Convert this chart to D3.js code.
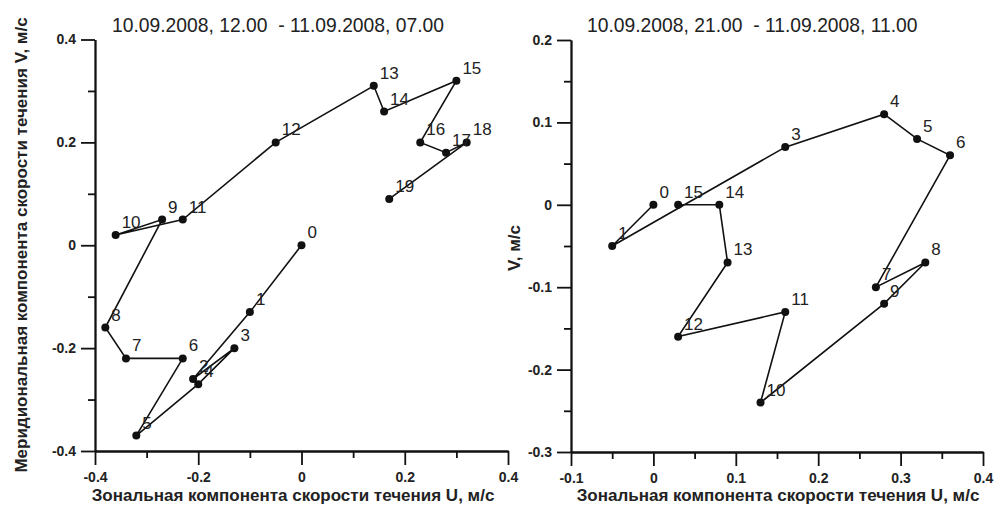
<!DOCTYPE html>
<html>
<head>
<meta charset="utf-8">
<script src="https://cdn.jsdelivr.net/npm/d3@7"></script>
<style>
  body { margin: 0; background: #fff; }
  svg { display: block; font-family: "Liberation Sans", Arial, sans-serif; }
  .axis path, .axis line { stroke: #111; stroke-width: 1.8; }
  .axis text { font-size: 14px; font-weight: bold; fill: #222; }
</style>
</head>
<body>
<svg id="chart" width="995" height="506"></svg>
<script>
// left hodograph: 10.09.2008 12.00 - 11.09.2008 07.00
var leftIds = [0, 1, 2, 3, 4, 5, 6, 7, 8, 9, 10, 11, 12, 13, 14, 15, 16, 17, 18, 19];
var leftU = [0, -0.10, -0.21, -0.13, -0.20, -0.32, -0.23, -0.34, -0.38, -0.27, -0.36, -0.23, -0.05, 0.14, 0.16, 0.30, 0.23, 0.28, 0.32, 0.17];
var leftV = [0, -0.13, -0.26, -0.20, -0.27, -0.37, -0.22, -0.22, -0.16, 0.05, 0.02, 0.05, 0.20, 0.31, 0.26, 0.32, 0.20, 0.18, 0.20, 0.09];

// right hodograph: 10.09.2008 21.00 - 11.09.2008 11.00
var rightIds = [0, 1, 3, 4, 5, 6, 7, 8, 9, 10, 11, 12, 13, 14, 15];
var rightU = [0, -0.05, 0.16, 0.28, 0.32, 0.36, 0.27, 0.33, 0.28, 0.13, 0.16, 0.03, 0.09, 0.08, 0.03];
var rightV = [0, -0.05, 0.07, 0.11, 0.08, 0.06, -0.10, -0.07, -0.12, -0.24, -0.13, -0.16, -0.07, 0, 0];

var leftXTicks = [-0.4, -0.2, 0, 0.2, 0.4];
var leftXMinor = [-0.3, -0.1, 0.1, 0.3];
var leftYTicks = [-0.4, -0.2, 0, 0.2, 0.4];
var leftYMinor = [-0.3, -0.1, 0.1, 0.3];
var rightXTicks = [-0.1, 0, 0.1, 0.2, 0.3, 0.4];
var rightXMinor = [-0.05, 0.05, 0.15, 0.25, 0.35];
var rightYTicks = [-0.3, -0.2, -0.1, 0, 0.1, 0.2];
var rightYMinor = [-0.25, -0.15, -0.05, 0.05, 0.15];

var svg = d3.select("#chart");

// plain labels, hyphen instead of unicode minus
function fmt(d) {
    if (Math.abs(d) < 1e-9) return "0";
    return (d < 0 ? "-" : "") + Math.abs(d).toFixed(1);
}

function drawPanel(opt) {
    var x = d3.scaleLinear().domain(opt.xDomain).range(opt.xRange);
    var y = d3.scaleLinear().domain(opt.yDomain).range(opt.yRange);
    var g = svg.append("g");

    // minor ticks first, then the labelled ones
    g.append("g").attr("class", "axis")
        .attr("transform", "translate(0," + opt.yRange[0] + ")")
        .call(d3.axisBottom(x).tickValues(opt.xMinor).tickSize(7).tickSizeOuter(0).tickFormat(""));
    g.append("g").attr("class", "axis")
        .attr("transform", "translate(0," + opt.yRange[0] + ")")
        .call(d3.axisBottom(x).tickValues(opt.xTicks).tickSize(14).tickSizeOuter(0).tickPadding(7).tickFormat(fmt));
    g.append("g").attr("class", "axis")
        .attr("transform", "translate(" + opt.xRange[0] + ",0)")
        .call(d3.axisLeft(y).tickValues(opt.yMinor).tickSize(7).tickSizeOuter(0).tickFormat(""));
    g.append("g").attr("class", "axis")
        .attr("transform", "translate(" + opt.xRange[0] + ",0)")
        .call(d3.axisLeft(y).tickValues(opt.yTicks).tickSize(14).tickSizeOuter(0).tickPadding(5).tickFormat(fmt));

    var pts = opt.ids.map(function (id, i) {
        return { id: id, u: opt.u[i], v: opt.v[i] };
    });

    var line = d3.line()
        .x(function (d) { return x(d.u); })
        .y(function (d) { return y(d.v); });

    g.append("path")
        .datum(pts)
        .attr("d", line)
        .attr("fill", "none")
        .attr("stroke", "#111")
        .attr("stroke-width", 1.6);

    g.selectAll(".dot")
        .data(pts)
        .enter().append("circle")
        .attr("class", "dot")
        .attr("cx", function (d) { return x(d.u); })
        .attr("cy", function (d) { return y(d.v); })
        .attr("r", 4)
        .attr("fill", "#111");

    g.selectAll(".lbl")
        .data(pts)
        .enter().append("text")
        .attr("class", "lbl")
        .attr("x", function (d) { return x(d.u) + 6; })
        .attr("y", function (d) { return y(d.v) - 7; })
        .attr("font-size", "17px")
        .attr("fill", "#222")
        .text(function (d) { return d.id; });

    g.append("text")
        .attr("x", opt.titleX)
        .attr("y", 32)
        .attr("font-size", "19.3px")
        .attr("fill", "#222")
        .attr("xml:space", "preserve")
        .text(opt.title);

    g.append("text")
        .attr("x", opt.xTitleX)
        .attr("y", 501)
        .attr("text-anchor", "middle")
        .attr("font-size", "17px")
        .attr("font-weight", "bold")
        .attr("fill", "#222")
        .text(opt.xTitle);

    g.append("text")
        .attr("transform", "translate(" + opt.yTitleX + "," + opt.yTitleY + ") rotate(-90)")
        .attr("text-anchor", "middle")
        .attr("font-size", "17px")
        .attr("font-weight", "bold")
        .attr("fill", "#222")
        .text(opt.yTitle);
}

drawPanel({
    ids: leftIds, u: leftU, v: leftV,
    xDomain: [-0.4, 0.4], xRange: [95, 508],
    yDomain: [-0.4, 0.4], yRange: [451, 39.5],
    xTicks: leftXTicks, xMinor: leftXMinor,
    yTicks: leftYTicks, yMinor: leftYMinor,
    title: "10.09.2008, 12.00  - 11.09.2008, 07.00", titleX: 112,
    xTitle: "Зональная компонента скорости течения U, м/с", xTitleX: 293,
    yTitle: "Меридиональная компонента скорости течения V, м/с", yTitleX: 27, yTitleY: 245
});

drawPanel({
    ids: rightIds, u: rightU, v: rightV,
    xDomain: [-0.1, 0.4], xRange: [571, 983],
    yDomain: [-0.3, 0.2], yRange: [452, 40],
    xTicks: rightXTicks, xMinor: rightXMinor,
    yTicks: rightYTicks, yMinor: rightYMinor,
    title: "10.09.2008, 21.00  - 11.09.2008, 11.00", titleX: 587,
    xTitle: "Зональная компонента скорости течения U, м/с", xTitleX: 778,
    yTitle: "V, м/с", yTitleX: 520, yTitleY: 248
});
</script>
</body>
</html>
